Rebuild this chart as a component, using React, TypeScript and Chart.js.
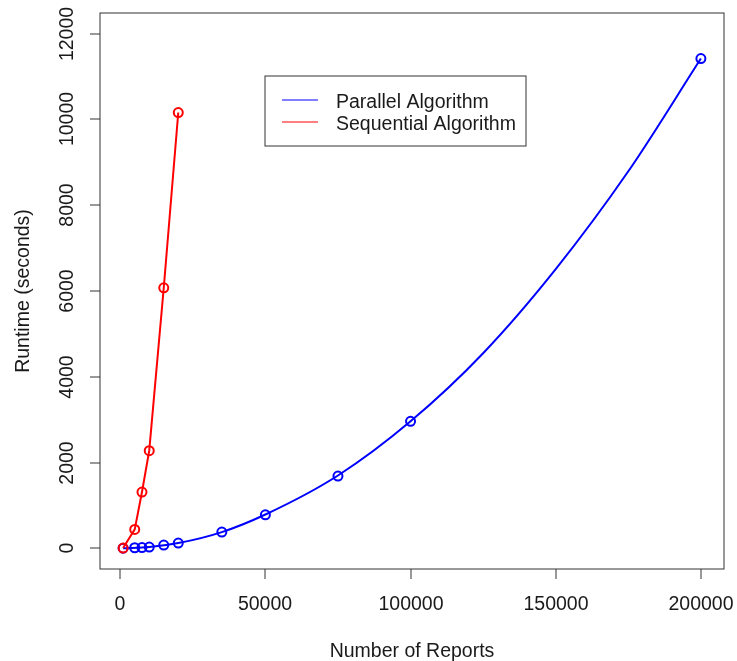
import React, { useEffect, useRef } from "react";
import { Chart, registerables } from "chart.js";

Chart.register(...registerables);

// ---- data ----
const sequentialN = [1000, 5000, 7500, 10000, 15000, 20000];
const sequentialT = [8, 443, 1314, 2278, 6075, 10160];

const parallelN = [1000, 5000, 7500, 10000, 15000, 20000, 35000, 50000, 75000, 100000, 200000];
const parallelT = [4, 15, 20, 30, 77, 124, 380, 784, 1687, 2963, 11419];

// the smooth fitted curve drawn through the parallel points
const parallelCurveN = [1000, 10000, 20000, 35000, 50000, 75000, 100000, 125000, 150000, 175000, 200000];
const parallelCurveT = [4, 30, 124, 380, 790, 1700, 2963, 4550, 6510, 8790, 11419];

const xTicks = [0, 50000, 100000, 150000, 200000];
const yTicks = [0, 2000, 4000, 6000, 8000, 10000, 12000];

const xTitle = "Number of Reports";
const yTitle = "Runtime (seconds)";
const parallelLabel = "Parallel Algorithm";
const sequentialLabel = "Sequential Algorithm";

const FONT = '19.5px "Liberation Sans", Arial, Helvetica, sans-serif';
const TEXT = "#1a1a1a";
const FRAME = "#333";

const toPts = (xs: number[], ys: number[]) => xs.map((x, i) => ({ x, y: ys[i] }));

const rAxesPlugin = {
  id: "rAxes",
  afterDraw(chart: any) {
    const ctx: CanvasRenderingContext2D = chart.ctx;
    const xs = chart.scales.x;
    const ys = chart.scales.y;
    const a = chart.chartArea;
    ctx.save();
    // box
    ctx.strokeStyle = FRAME;
    ctx.lineWidth = 1;
    ctx.strokeRect(a.left, a.top, a.right - a.left, a.bottom - a.top);
    // x ticks
    ctx.fillStyle = TEXT;
    ctx.font = FONT;
    ctx.textAlign = "center";
    ctx.textBaseline = "alphabetic";
    xTicks.forEach((v) => {
      const px = Math.round(xs.getPixelForValue(v));
      ctx.beginPath();
      ctx.moveTo(px, a.bottom);
      ctx.lineTo(px, a.bottom + 10);
      ctx.stroke();
      ctx.fillText(String(v), px, a.bottom + 41);
    });
    // y ticks (rotated labels)
    yTicks.forEach((v) => {
      const py = Math.round(ys.getPixelForValue(v));
      ctx.beginPath();
      ctx.moveTo(a.left - 10, py);
      ctx.lineTo(a.left, py);
      ctx.stroke();
      ctx.save();
      ctx.translate(a.left - 27, py);
      ctx.rotate(-Math.PI / 2);
      ctx.fillText(String(v), 0, 0);
      ctx.restore();
    });
    // titles
    ctx.fillText(xTitle, (a.left + a.right) / 2, a.bottom + 88);
    ctx.save();
    ctx.translate(28.5, (a.top + a.bottom) / 2);
    ctx.rotate(-Math.PI / 2);
    ctx.fillText(yTitle, 0, 0);
    ctx.restore();

    // legend
    const lx = 265, ly = 76, lw = 261, lh = 70;
    ctx.fillStyle = "#fff";
    ctx.fillRect(lx, ly, lw, lh);
    ctx.strokeStyle = FRAME;
    ctx.lineWidth = 1;
    ctx.strokeRect(lx, ly, lw, lh);
    const items = [
      { label: parallelLabel, color: "#0000ff", y: 100 },
      { label: sequentialLabel, color: "#ff0000", y: 122 },
    ];
    ctx.textAlign = "left";
    items.forEach((it) => {
      ctx.strokeStyle = it.color;
      ctx.lineWidth = 1;
      ctx.beginPath();
      ctx.moveTo(282, it.y);
      ctx.lineTo(318, it.y);
      ctx.stroke();
      ctx.fillStyle = TEXT;
      ctx.fillText(it.label, 336, it.y + 8);
    });
    ctx.restore();
  },
};

export default function App() {
  const ref = useRef<HTMLCanvasElement | null>(null);
  useEffect(() => {
    if (!ref.current) return;
    const chart = new Chart(ref.current, {
      type: "scatter",
      data: {
        datasets: [
          {
            label: sequentialLabel,
            data: toPts(sequentialN, sequentialT),
            showLine: true,
            borderColor: "#ff0000",
            backgroundColor: "rgba(0,0,0,0)",
            borderWidth: 2,
            tension: 0,
            pointRadius: 4.5,
            pointBorderWidth: 2,
            pointBorderColor: "#ff0000",
            pointBackgroundColor: "rgba(0,0,0,0)",
          } as any,
          {
            label: parallelLabel,
            data: toPts(parallelN, parallelT),
            showLine: false,
            borderColor: "#0000ff",
            backgroundColor: "rgba(0,0,0,0)",
            pointRadius: 4.5,
            pointBorderWidth: 2,
            pointBorderColor: "#0000ff",
            pointBackgroundColor: "rgba(0,0,0,0)",
          } as any,
          {
            label: parallelLabel + " (fit)",
            data: toPts(parallelCurveN, parallelCurveT),
            showLine: true,
            borderColor: "#0000ff",
            backgroundColor: "rgba(0,0,0,0)",
            borderWidth: 2,
            cubicInterpolationMode: "monotone",
            pointRadius: 0,
          } as any,
        ],
      },
      options: {
        responsive: false,
        devicePixelRatio: 1,
        animation: false,
        layout: { padding: { left: 100, top: 13, right: 13, bottom: 92 } },
        plugins: { legend: { display: false }, tooltip: { enabled: false } },
        scales: {
          x: { type: "linear", display: false, min: -6960, max: 207960 },
          y: { type: "linear", display: false, min: -480, max: 12480 },
        },
      },
      plugins: [rAxesPlugin],
    });
    return () => chart.destroy();
  }, []);
  return (
    <div style={{ position: "fixed", left: 0, top: 0, width: 737, height: 661, background: "#fff" }}>
      <canvas ref={ref} width={737} height={661} style={{ display: "block", width: 737, height: 661 }} />
    </div>
  );
}
